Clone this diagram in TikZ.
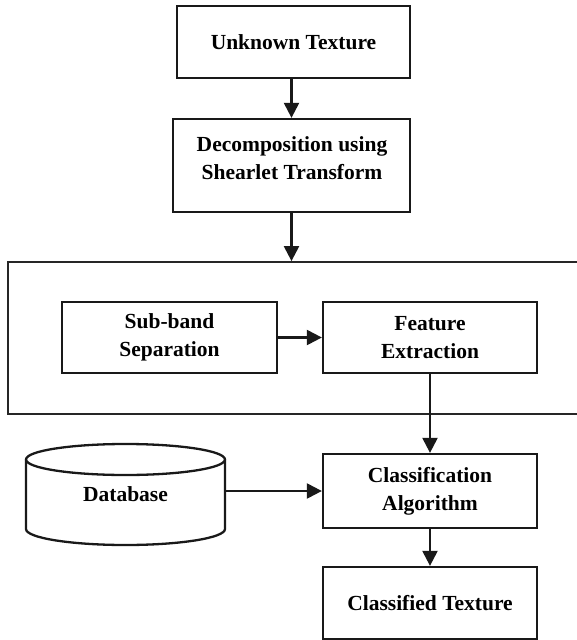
\documentclass[tikz,border=0pt]{standalone}
\usepackage{fontspec}
\setmainfont{Liberation Serif}
\usetikzlibrary{arrows.meta}

\tikzset{
  stepbox/.style={draw=black!90, line width=2.3pt, minimum width=#1, inner sep=0pt,
    align=center, font=\fontsize{21.5}{28}\selectfont\bfseries},
  flow/.style={line width=2.3pt, draw=black!90, -{Triangle[length=15pt,width=15pt]}},
  frame/.style={draw=black!85, line width=1.8pt, inner sep=0pt},
  label/.style={inner sep=0pt, align=center, font=\fontsize{21.5}{28}\selectfont\bfseries}
}

\begin{document}
\begin{tikzpicture}[x=1pt, y=-1pt]
  \useasboundingbox (0,0) rectangle (577,640);
  \clip (0,0) rectangle (577,640);

  % top stages
  \node[stepbox=233pt, minimum height=72pt] (unk) at (293.5,42) {Unknown Texture};
  \node[stepbox=237pt, minimum height=93pt] (dec) at (291.5,165.5) {};
  \node[label] (dectext) at (292,158) {Decomposition using\\Shearlet Transform};

  % feature stage frame
  \node[frame, minimum width=582pt, minimum height=152pt] (stage) at (299,338) {};
  \node[stepbox=215pt, minimum height=71pt] (sub) at (169.5,337.5) {Sub-band\\Separation};
  \node[stepbox=214pt, minimum height=71pt] (feat) at (430,337.5) {Feature\\Extraction};

  % classification
  \node[stepbox=214pt, minimum height=74pt] (cls) at (430,491) {Classification\\Algorithm};
  \node[stepbox=214pt, minimum height=72pt] (out) at (430,603) {Classified Texture};

  % database cylinder
  \node[label, minimum width=199pt, minimum height=60pt] (db) at (125.5,494) {Database};
  \draw[line width=2.3pt, draw=black!90]
    (125.5,459.5) ellipse [x radius=99.5pt, y radius=15.5pt];
  \draw[line width=2.3pt, draw=black!90]
    (26,459.5) -- (26,529)
    arc[start angle=180, end angle=360, x radius=99.5pt, y radius=16pt]
    -- (225,459.5);

  % connectors
  \draw[flow] (dec.north |- unk.south) -- (dec.north);
  \draw[flow] (dec.south) -- (dec.south |- stage.north);
  \draw[flow] (sub.east) -- (feat.west);
  \draw[flow] (feat.south) -- (cls.north);
  \draw[flow] (db.east |- cls.west) -- (cls.west);
  \draw[flow] (cls.south) -- (out.north);
\end{tikzpicture}
\end{document}
